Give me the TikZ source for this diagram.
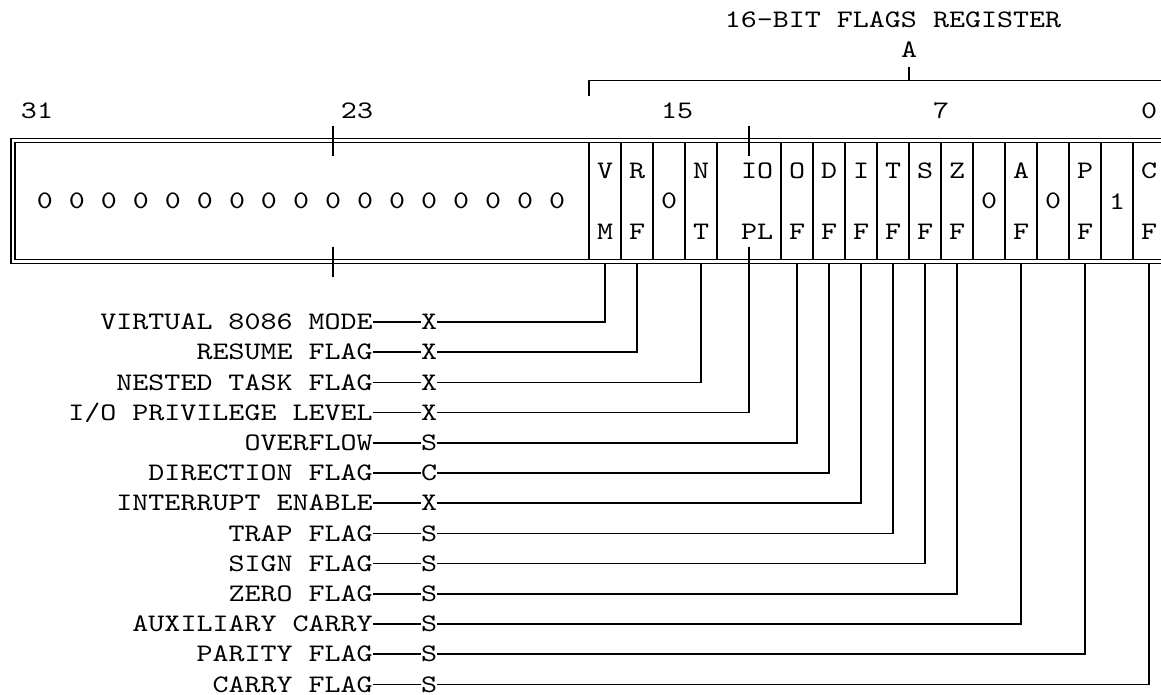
\documentclass[tikz,border=0pt]{standalone}
\usepackage{fontspec}
\newfontfamily\regfont{lmmono10-regular.otf}[FakeStretch=1.21]
\usepackage{tikz}
\tikzset{
	regtext/.style={font={\regfont\fontsize{12.6pt}{30.2pt}\selectfont}, inner sep=0pt},
	flag/.style={regtext, text height=7.7pt, text depth=0pt},
	cell/.style={regtext, draw, line width=0.65pt, minimum width=16pt, minimum height=58.4pt, align=center},
	leader/.style={line width=0.75pt},
	tick/.style={line width=0.8pt}
}

\begin{document}
\begin{tikzpicture}[x=8pt, y=-15.1pt]
	\useasboundingbox (-0.8125,-0.6623) rectangle (71.75,22.318);

	\node[flag] (title) at (55,0) {16-BIT FLAGS REGISTER};
	\node[flag] (a) at (56,1) {A};

	\node[flag] (n31) at (1.5,3) {31};
	\node[flag] (n23) at (21.5,3) {23};
	\node[flag] (n15) at (41.5,3) {15};
	\node[flag] (n7) at (58,3) {7};
	\node[flag] (n0) at (71,3) {0};

	\foreach \c in {2,4,...,34}
		\node[flag] (z\c) at (\c,6) {0};

	\node[cell] (vm) at (37,6) {V\\M};
	\node[cell] (rf) at (39,6) {R\\F};
	\node[cell] (b15) at (41,6) {0};
	\node[cell] (nt) at (43,6) {N\\T};
	\node[cell, minimum width=32pt] (iopl) at (46,6) {\hphantom{I}IO\\\hphantom{P}PL};
	\node[cell] (of) at (49,6) {O\\F};
	\node[cell] (df) at (51,6) {D\\F};
	\node[cell] (if) at (53,6) {I\\F};
	\node[cell] (tf) at (55,6) {T\\F};
	\node[cell] (sf) at (57,6) {S\\F};
	\node[cell] (zf) at (59,6) {Z\\F};
	\node[cell] (b5) at (61,6) {0};
	\node[cell] (af) at (63,6) {A\\F};
	\node[cell] (b3) at (65,6) {0};
	\node[cell] (pf) at (67,6) {P\\F};
	\node[cell] (b1) at (69,6) {1};
	\node[cell] (cf) at (71,6) {C\\F};

	\foreach \nm/\txt/\mk/\r in {vm/VIRTUAL 8086 MODE/X/10, rf/RESUME FLAG/X/11,
			nt/NESTED TASK FLAG/X/12, iopl/I\slash O PRIVILEGE LEVEL/X/13,
			of/OVERFLOW/S/14, df/DIRECTION FLAG/C/15, if/INTERRUPT ENABLE/X/16,
			tf/TRAP FLAG/S/17, sf/SIGN FLAG/S/18, zf/ZERO FLAG/S/19,
			af/AUXILIARY CARRY/S/20, pf/PARITY FLAG/S/21, cf/CARRY FLAG/S/22}{
		\node[flag, anchor=east] (lb\nm) at (22.5,\r) {\txt};
		\node[flag] (mk\nm) at (26,\r) {\mk};
		\draw[leader] (lb\nm) -- (mk\nm);
		\draw[leader] (mk\nm) -| (\nm.south);
	}

	\draw[double, double distance=1.35pt, line width=0.65pt] (0,4) rectangle (72,8);

	\draw[tick] (20,3.5) -- (20,4.5);
	\draw[tick] (20,7.5) -- (20,8.5);
	\draw[tick] (46,3.5) -- (46,4.5);
	\draw[tick] (46,7.5) -- (46,8.5);

	\draw[leader] (36,2.5) -- (36,2) -- (72,2) -- (72,2.5);
	\draw[leader, shorten >=4.4pt] (56,2) -- (a);
\end{tikzpicture}
\end{document}
